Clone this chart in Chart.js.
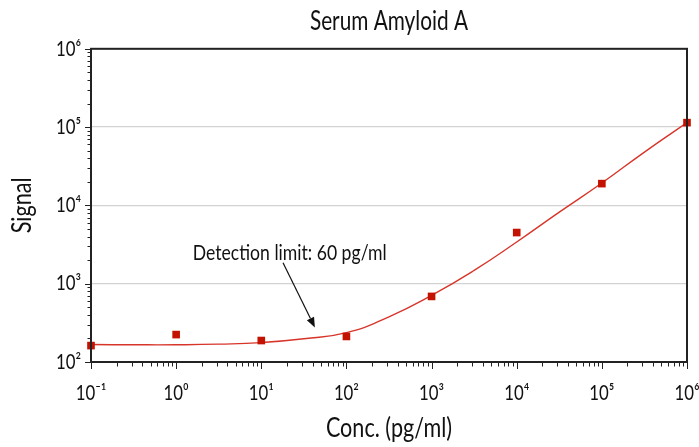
<!DOCTYPE html>
<html>
<head>
<meta charset="utf-8">
<script src="https://cdn.jsdelivr.net/npm/chart.js@4"></script>
<style>
  html, body { margin: 0; padding: 0; background: #ffffff; }
  #wrap { width: 699px; height: 447px; }
</style>
</head>
<body>
<div id="wrap"><canvas id="c" width="699" height="447"></canvas></div>
<script>
// ---- data ----
const concentrations = [0.1, 1, 10, 100, 1000, 10000, 100000, 1000000];
const signals = [162, 224, 188, 212, 688, 4500, 18970, 114000];

const fitConc = [0.1, 0.316, 1, 3.16, 10, 31.6, 100, 316, 1000, 3162, 10000, 31623, 100000, 316228, 1000000];
const fitSignal = [167, 166, 166, 169, 177, 198, 237, 378, 710, 1480, 3410, 8200, 19300, 48000, 114000];

const xTickValues = [0.1, 1, 10, 100, 1000, 10000, 100000, 1000000];
const xTickLabels = ['10\u207B\u00B9', '10\u2070', '10\u00B9', '10\u00B2', '10\u00B3', '10\u2074', '10\u2075', '10\u2076'];
const yTickValues = [100, 1000, 10000, 100000, 1000000];
const yTickLabels = ['10\u00B2', '10\u00B3', '10\u2074', '10\u2075', '10\u2076'];

const titleText = 'Serum Amyloid A';
const xTitle = 'Conc. (pg/ml)';
const yTitle = 'Signal';
const noteText = 'Detection limit: 60 pg/ml';

const FONT = "Lato, 'Noto Sans', sans-serif";

// condensed text look: every text is drawn horizontally narrowed
const TEXT_SX = 0.8;
(function () {
  const proto = CanvasRenderingContext2D.prototype;
  const origFill = proto.fillText, origMeasure = proto.measureText;
  proto.fillText = function (t, x, y, maxW) {
    this.save();
    this.translate(x, y);
    this.scale(TEXT_SX, 1);
    if (maxW !== undefined) origFill.call(this, t, 0, 0, maxW / TEXT_SX);
    else origFill.call(this, t, 0, 0);
    this.restore();
  };
  proto.measureText = function (t) {
    const m = origMeasure.call(this, t);
    return {
      width: m.width * TEXT_SX,
      actualBoundingBoxAscent: m.actualBoundingBoxAscent,
      actualBoundingBoxDescent: m.actualBoundingBoxDescent,
      actualBoundingBoxLeft: m.actualBoundingBoxLeft * TEXT_SX,
      actualBoundingBoxRight: m.actualBoundingBoxRight * TEXT_SX,
      fontBoundingBoxAscent: m.fontBoundingBoxAscent,
      fontBoundingBoxDescent: m.fontBoundingBoxDescent
    };
  };
})();

// frame, minor ticks and annotation drawn through the chart scales
const decor = {
  id: 'decor',
  afterDatasetsDraw(chart) {
    const ctx = chart.ctx;
    const a = chart.chartArea;
    const xs = chart.scales.x, ys = chart.scales.y;
    ctx.save();
    ctx.strokeStyle = '#222';
    ctx.lineWidth = 1;
    for (let e = -1; e <= 6; e++) {
      for (let m = 1; m <= 9; m++) {
        const v = m * Math.pow(10, e);
        if (v < xs.min * 0.999 || v > xs.max * 1.001) continue;
        const px = Math.round(xs.getPixelForValue(v)) + 0.5;
        const len = m === 1 ? 7 : 4.5;
        ctx.beginPath();
        ctx.moveTo(px, a.bottom);
        ctx.lineTo(px, a.bottom + len);
        ctx.stroke();
      }
    }
    for (let e = 2; e <= 6; e++) {
      for (let m = 1; m <= 9; m++) {
        const v = m * Math.pow(10, e);
        if (v < ys.min * 0.999 || v > ys.max * 1.001) continue;
        const py = Math.round(ys.getPixelForValue(v)) + 0.5;
        const len = m === 1 ? 6 : 3.5;
        ctx.beginPath();
        ctx.moveTo(a.left, py);
        ctx.lineTo(a.left - len, py);
        ctx.stroke();
      }
    }
    ctx.strokeStyle = '#222';
    ctx.lineWidth = 2;
    ctx.strokeRect(a.left, a.top, a.right - a.left, a.bottom - a.top);

    // annotation
    const tx = xs.getPixelForValue(21.6);
    const ty = ys.getPixelForValue(2450);
    ctx.fillStyle = '#111';
    ctx.font = "22px " + FONT;
    ctx.textAlign = 'center';
    ctx.textBaseline = 'middle';
    ctx.fillText(noteText, tx, ty);

    const x0 = xs.getPixelForValue(18), y0 = ys.getPixelForValue(1850);
    const x1 = xs.getPixelForValue(42.6), y1 = ys.getPixelForValue(276);
    const ang = Math.atan2(y1 - y0, x1 - x0);
    const hl = 10, hw = 4;
    const bx = x1 - hl * Math.cos(ang), by = y1 - hl * Math.sin(ang);
    ctx.strokeStyle = '#111';
    ctx.lineWidth = 1.2;
    ctx.beginPath();
    ctx.moveTo(x0, y0);
    ctx.lineTo(bx, by);
    ctx.stroke();
    ctx.beginPath();
    ctx.moveTo(x1, y1);
    ctx.lineTo(bx + hw * Math.sin(ang), by - hw * Math.cos(ang));
    ctx.lineTo(bx - hw * Math.sin(ang), by + hw * Math.cos(ang));
    ctx.closePath();
    ctx.fillStyle = '#111';
    ctx.fill();
    ctx.restore();
  }
};

new Chart(document.getElementById('c'), {
  type: 'scatter',
  data: {
    datasets: [
      {
        label: 'Fit',
        data: fitConc.map((x, i) => ({ x: x, y: fitSignal[i] })),
        showLine: true,
        borderColor: '#d8352a',
        borderWidth: 1.4,
        pointRadius: 0,
        tension: 0.5,
        order: 2
      },
      {
        label: 'Measured',
        data: concentrations.map((x, i) => ({ x: x, y: signals[i] })),
        showLine: false,
        clip: false,
        pointStyle: 'rect',
        pointRadius: 5.4,
        pointBackgroundColor: '#c41200',
        pointBorderColor: '#c41200',
        pointBorderWidth: 0,
        order: 1
      }
    ]
  },
  options: {
    responsive: false,
    animation: false,
    devicePixelRatio: 1,
    layout: { padding: { left: 0, right: 12, top: 0, bottom: 0 } },
    plugins: {
      legend: { display: false },
      tooltip: { enabled: false },
      title: {
        display: true,
        fullSize: false,
        text: titleText,
        color: '#111',
        font: { family: FONT, size: 26, weight: 'normal', lineHeight: 1.2 },
        padding: { top: 6, bottom: 11.6 }
      }
    },
    scales: {
      x: {
        type: 'logarithmic',
        position: 'bottom',
        min: 0.1,
        max: 1000000,
        afterBuildTicks: (s) => { s.ticks = xTickValues.map(v => ({ value: v })); },
        afterFit: (s) => { s.height = 85; s.paddingLeft = 0; s.paddingRight = 0; },
        grid: { display: false },
        border: { display: false },
        ticks: {
          autoSkip: false,
          maxRotation: 0,
          padding: 11,
          color: '#111',
          font: { family: FONT, size: 21 },
          callback: (v, i) => xTickLabels[i]
        },
        title: {
          display: true,
          text: xTitle,
          color: '#111',
          font: { family: FONT, size: 27, lineHeight: 1.2 },
          padding: { top: 0, bottom: 3 }
        }
      },
      y: {
        type: 'logarithmic',
        position: 'left',
        min: 100,
        max: 1000000,
        afterBuildTicks: (s) => { s.ticks = yTickValues.map(v => ({ value: v })); },
        afterFit: (s) => { s.width = 91; s.paddingTop = 0; s.paddingBottom = 0; },
        grid: {
          drawTicks: false,
          color: '#d2d2d2',
          lineWidth: 1.3
        },
        border: { display: false },
        ticks: {
          autoSkip: false,
          padding: 10,
          color: '#111',
          font: { family: FONT, size: 21 },
          callback: (v, i) => yTickLabels[i]
        },
        title: {
          display: true,
          text: yTitle,
          color: '#111',
          font: { family: FONT, size: 27, lineHeight: 1.2 },
          padding: { top: 6, bottom: 0 }
        }
      }
    }
  },
  plugins: [decor]
});
</script>
</body>
</html>
